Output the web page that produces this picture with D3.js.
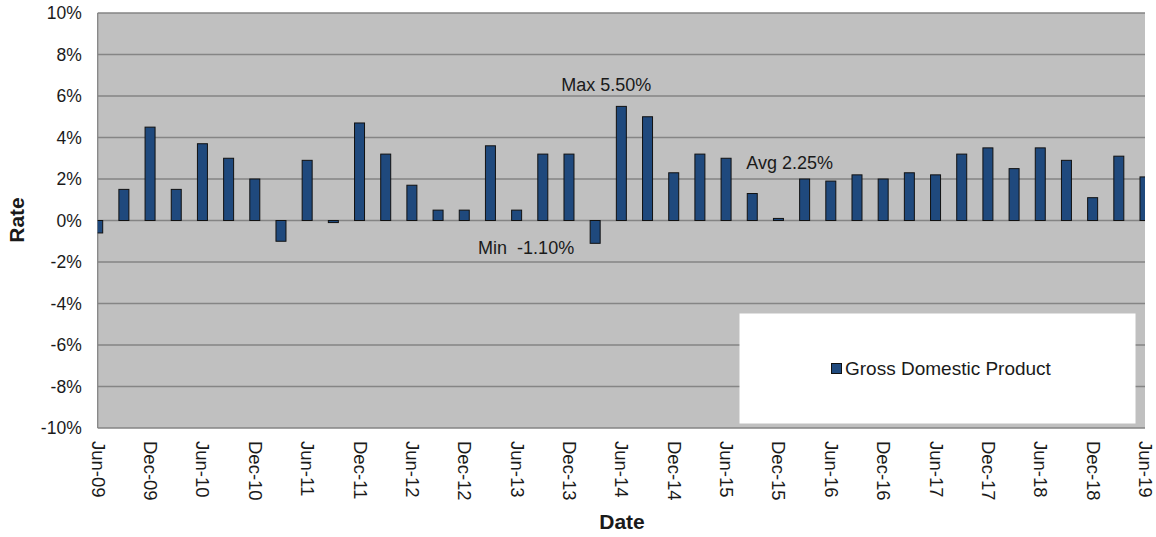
<!DOCTYPE html>
<html>
<head>
<meta charset="utf-8">
<script src="https://cdn.jsdelivr.net/npm/d3@7"></script>
<style>
  html, body { margin: 0; padding: 0; background: #ffffff; }
  svg { display: block; font-family: "Liberation Sans", Arial, sans-serif; }
</style>
</head>
<body>
<svg id="chart" width="1156" height="537"></svg>
<script>
// ---- data ----
const quarters = [
  "Jun-09","Sep-09","Dec-09","Mar-10","Jun-10","Sep-10","Dec-10","Mar-11","Jun-11","Sep-11",
  "Dec-11","Mar-12","Jun-12","Sep-12","Dec-12","Mar-13","Jun-13","Sep-13","Dec-13","Mar-14",
  "Jun-14","Sep-14","Dec-14","Mar-15","Jun-15","Sep-15","Dec-15","Mar-16","Jun-16","Sep-16",
  "Dec-16","Mar-17","Jun-17","Sep-17","Dec-17","Mar-18","Jun-18","Sep-18","Dec-18","Mar-19",
  "Jun-19"
];
const gdpValues = [
  -0.6, 1.5, 4.5, 1.5, 3.7, 3.0, 2.0, -1.0, 2.9, -0.1,
   4.7, 3.2, 1.7, 0.5, 0.5, 3.6, 0.5, 3.2, 3.2, -1.1,
   5.5, 5.0, 2.3, 3.2, 3.0, 1.3, 0.1, 2.0, 1.9, 2.2,
   2.0, 2.3, 2.2, 3.2, 3.5, 2.5, 3.5, 2.9, 1.1, 3.1,
   2.1
];
const xTickLabels = ["Jun-09","Dec-09","Jun-10","Dec-10","Jun-11","Dec-11","Jun-12","Dec-12",
  "Jun-13","Dec-13","Jun-14","Dec-14","Jun-15","Dec-15","Jun-16","Dec-16","Jun-17","Dec-17",
  "Jun-18","Dec-18","Jun-19"];
const yTicks = [-10, -8, -6, -4, -2, 0, 2, 4, 6, 8, 10];
const seriesName = "Gross Domestic Product";
const maxLabel = "Max 5.50%";
const minLabel = "Min  -1.10%";
const avgLabel = "Avg 2.25%";
const avgValue = 2.25;

// ---- layout ----
const svg = d3.select("#chart");
const plot = { left: 97.7, right: 1145, top: 13, bottom: 428 };
const barColor = "#1f497d";
const textColor = "#1a1a1a";

const x = d3.scalePoint().domain(quarters).range([plot.left, plot.right]);
const y = d3.scaleLinear().domain([-10, 10]).range([plot.bottom, plot.top]);
const barW = 10;

// clip
svg.append("defs").append("clipPath").attr("id", "clip")
  .append("rect").attr("x", plot.left).attr("y", plot.top)
  .attr("width", plot.right - plot.left).attr("height", plot.bottom - plot.top);

// background
svg.append("rect")
  .attr("x", plot.left).attr("y", plot.top)
  .attr("width", plot.right - plot.left).attr("height", plot.bottom - plot.top)
  .attr("fill", "#c0c0c0");

// gridlines
svg.append("g").selectAll("line").data(yTicks).join("line")
  .attr("x1", plot.left).attr("x2", plot.right)
  .attr("y1", d => y(d)).attr("y2", d => y(d))
  .attr("stroke", "#858585").attr("stroke-width", 1.3);

// left border
svg.append("line").attr("x1", plot.left).attr("x2", plot.left)
  .attr("y1", plot.top).attr("y2", plot.bottom)
  .attr("stroke", "#858585").attr("stroke-width", 1.3);

// y axis labels
const yAxis = d3.axisLeft(y).tickValues(yTicks).tickSize(0).tickPadding(16)
  .tickFormat(d => d + "%");
const gy = svg.append("g").attr("transform", `translate(${plot.left},0)`).call(yAxis);
gy.select(".domain").remove();
gy.selectAll("text").attr("font-size", 17.5).attr("fill", textColor)
  .attr("font-family", "Liberation Sans, Arial, sans-serif");

// bars
svg.append("g").attr("clip-path", "url(#clip)")
  .selectAll("rect").data(gdpValues).join("rect")
  .attr("x", (d, i) => x(quarters[i]) - barW / 2)
  .attr("width", barW)
  .attr("y", d => Math.min(y(d), y(0)))
  .attr("height", d => Math.max(Math.abs(y(d) - y(0)), 1))
  .attr("fill", barColor)
  .attr("stroke", "#111")
  .attr("stroke-width", 1);

// x axis labels (rotated)
const xAxis = d3.axisBottom(x).tickValues(xTickLabels).tickSize(0).tickPadding(0);
const gx = svg.append("g").attr("transform", `translate(0,${plot.bottom})`).call(xAxis);
gx.select(".domain").remove();
gx.selectAll("text")
  .attr("font-size", 18.5).attr("fill", textColor)
  .attr("font-family", "Liberation Sans, Arial, sans-serif")
  .attr("text-anchor", "start")
  .attr("dy", null)
  .attr("y", 0)
  .attr("transform", "translate(0,13) rotate(90)")
  .attr("dominant-baseline", "central");

// annotations
const idxMax = gdpValues.indexOf(d3.max(gdpValues));
const idxMin = gdpValues.indexOf(d3.min(gdpValues));
svg.append("text").text(maxLabel)
  .attr("x", x(quarters[idxMax]) - 15).attr("y", y(gdpValues[idxMax]) - 15)
  .attr("text-anchor", "middle").attr("font-size", 18).attr("fill", textColor);
svg.append("text").text(minLabel).attr("xml:space", "preserve")
  .style("white-space", "pre")
  .attr("x", x(quarters[idxMin]) - 21).attr("y", y(gdpValues[idxMin]) + 10.5)
  .attr("text-anchor", "end").attr("font-size", 18).attr("fill", textColor);
svg.append("text").text(avgLabel)
  .attr("x", x(quarters[25]) - 6).attr("y", y(avgValue) - 4.5)
  .attr("text-anchor", "start").attr("font-size", 18).attr("fill", textColor);

// legend
const lg = svg.append("g");
lg.append("rect").attr("x", 739.5).attr("y", 313.5).attr("width", 396).attr("height", 110)
  .attr("fill", "#ffffff");
lg.append("rect").attr("x", 831.5).attr("y", 363.5).attr("width", 10).attr("height", 10)
  .attr("fill", barColor).attr("stroke", "#111").attr("stroke-width", 1);
lg.append("text").text(seriesName).attr("x", 845).attr("y", 375)
  .attr("font-size", 19).attr("fill", textColor);

// axis titles
svg.append("text").text("Rate")
  .attr("transform", `translate(24,220) rotate(-90)`)
  .attr("text-anchor", "middle").attr("font-size", 21).attr("font-weight", "bold")
  .attr("fill", textColor);
svg.append("text").text("Date")
  .attr("x", 622).attr("y", 529)
  .attr("text-anchor", "middle").attr("font-size", 21).attr("font-weight", "bold")
  .attr("fill", textColor);
</script>
</body>
</html>
